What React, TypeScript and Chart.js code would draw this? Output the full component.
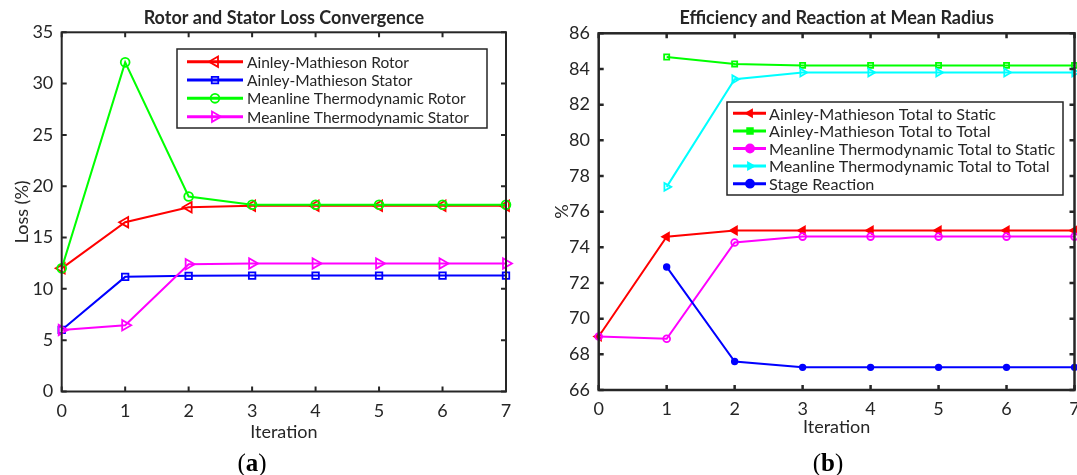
import React, { useEffect, useRef } from "react";
import { Chart, registerables } from "chart.js";

Chart.register(...registerables);

const FONT = "Lato, 'Open Sans', 'DejaVu Sans', sans-serif";
const TEXT = "#262626";

// ---------- shared ----------
const iterations = [0, 1, 2, 3, 4, 5, 6, 7];
const xLabel = "Iteration";

// ---------- (a) Rotor and Stator Loss Convergence ----------
const lossTitle = "Rotor and Stator Loss Convergence";
const lossYLabel = "Loss (%)";
const lossTicks = [0, 5, 10, 15, 20, 25, 30, 35];
const lossNames = [
  "Ainley-Mathieson Rotor",
  "Ainley-Mathieson Stator",
  "Meanline Thermodynamic Rotor",
  "Meanline Thermodynamic Stator",
];
const amRotor = [12.0, 16.5, 17.95, 18.1, 18.1, 18.1, 18.1, 18.1];
const amStator = [6.0, 11.17, 11.27, 11.3, 11.3, 11.3, 11.3, 11.3];
const mtRotor = [12.0, 32.07, 19.0, 18.2, 18.2, 18.2, 18.2, 18.2];
const mtStator = [6.0, 6.45, 12.4, 12.48, 12.48, 12.48, 12.48, 12.48];

// ---------- (b) Efficiency and Reaction at Mean Radius ----------
const effTitle = "Efficiency and Reaction at Mean Radius";
const effYLabel = "%";
const effTicks = [66, 68, 70, 72, 74, 76, 78, 80, 82, 84, 86];
const effNames = [
  "Ainley-Mathieson Total to Static",
  "Ainley-Mathieson Total to Total",
  "Meanline Thermodynamic Total to Static",
  "Meanline Thermodynamic Total to Total",
  "Stage Reaction",
];
const amTtS = [69.0, 74.59, 74.94, 74.94, 74.94, 74.94, 74.94, 74.94];
const amTtT = [null, 84.67, 84.28, 84.2, 84.2, 84.2, 84.2, 84.2];
const mtTtS = [69.0, 68.87, 74.27, 74.6, 74.6, 74.6, 74.6, 74.6];
const mtTtT = [null, 77.39, 83.42, 83.8, 83.8, 83.8, 83.8, 83.8];
const stageReaction = [null, 72.9, 67.6, 67.27, 67.27, 67.27, 67.27, 67.27];

// ---------- styles ----------
type Style = {
  color: string;
  shape: string;
  rotation: number;
  radius: number;
  fill: boolean;
};

const lossStyles: Style[] = [
  { color: "#ff0000", shape: "triangle", rotation: -90, radius: 6, fill: false },
  { color: "#0000ff", shape: "rect", rotation: 0, radius: 4.6, fill: false },
  { color: "#00ff00", shape: "circle", rotation: 0, radius: 4.4, fill: false },
  { color: "#ff00ff", shape: "triangle", rotation: 90, radius: 6, fill: false },
];

const effStyles: Style[] = [
  { color: "#ff0000", shape: "triangle", rotation: -90, radius: 4.5, fill: true },
  { color: "#00ff00", shape: "rect", rotation: 0, radius: 3.6, fill: false },
  { color: "#ff00ff", shape: "circle", rotation: 0, radius: 3.4, fill: false },
  { color: "#00ffff", shape: "triangle", rotation: 90, radius: 4.5, fill: false },
  { color: "#0000ff", shape: "circle", rotation: 0, radius: 2.8, fill: true },
];

function makeDataset(label: string, values: (number | null)[], st: Style, idx: number, lw: number) {
  return {
    label,
    data: iterations.map((x, i) => ({ x, y: values[i] })),
    borderColor: st.color,
    backgroundColor: st.color,
    borderWidth: lw,
    pointStyle: st.shape,
    pointRotation: st.rotation,
    pointRadius: st.radius,
    pointBorderWidth: 1.8,
    pointBorderColor: st.color,
    pointBackgroundColor: st.fill ? st.color : "rgba(0,0,0,0)",
    tension: 0,
    clip: false,
    order: -idx,
    _style: st,
  };
}

function drawMarker(ctx: CanvasRenderingContext2D, st: Style, x: number, y: number, r: number) {
  ctx.save();
  ctx.strokeStyle = st.color;
  ctx.fillStyle = st.color;
  ctx.lineWidth = 1.8;
  ctx.beginPath();
  if (st.shape === "circle") {
    ctx.arc(x, y, r, 0, Math.PI * 2);
  } else if (st.shape === "rect") {
    const s = Math.SQRT1_2 * r;
    ctx.rect(x - s, y - s, 2 * s, 2 * s);
  } else {
    let rad = (st.rotation * Math.PI) / 180;
    for (let k = 0; k < 3; k++) {
      const px = x + Math.sin(rad) * r;
      const py = y - Math.cos(rad) * r;
      if (k === 0) ctx.moveTo(px, py);
      else ctx.lineTo(px, py);
      rad += (2 * Math.PI) / 3;
    }
    ctx.closePath();
  }
  if (st.fill) ctx.fill();
  ctx.stroke();
  ctx.restore();
}

const framePlugin = {
  id: "frame",
  afterDatasetsDraw(chart: any, _args: any, opts: any) {
    const { ctx, chartArea } = chart;
    const { left, right, top, bottom } = chartArea;
    const xs = chart.scales.x;
    const ys = chart.scales.y;
    const tl = opts.tickLength ?? 5;
    ctx.save();
    ctx.strokeStyle = TEXT;
    ctx.lineWidth = opts.lineWidth ?? 2;
    ctx.beginPath();
    xs.ticks.forEach((t: any) => {
      const px = xs.getPixelForValue(t.value);
      ctx.moveTo(px, bottom);
      ctx.lineTo(px, bottom - tl);
      ctx.moveTo(px, top);
      ctx.lineTo(px, top + tl);
    });
    ys.ticks.forEach((t: any) => {
      const py = ys.getPixelForValue(t.value);
      ctx.moveTo(left, py);
      ctx.lineTo(left + tl, py);
      ctx.moveTo(right, py);
      ctx.lineTo(right - tl, py);
    });
    ctx.stroke();
    ctx.strokeRect(left, top, right - left, bottom - top);
    ctx.restore();
  },
};

const boxLegendPlugin = {
  id: "boxLegend",
  afterDraw(chart: any, _args: any, o: any) {
    const { ctx } = chart;
    ctx.save();
    ctx.fillStyle = "#ffffff";
    ctx.fillRect(o.x, o.y, o.w, o.h);
    ctx.strokeStyle = TEXT;
    ctx.lineWidth = 1.5;
    ctx.strokeRect(o.x, o.y, o.w, o.h);
    chart.data.datasets.forEach((ds: any, i: number) => {
      const cy = o.rowStart + i * o.rowStep;
      const st: Style = ds._style;
      ctx.strokeStyle = st.color;
      ctx.lineWidth = o.lineWidth;
      ctx.beginPath();
      ctx.moveTo(o.lineX0, cy);
      ctx.lineTo(o.lineX1, cy);
      ctx.stroke();
      drawMarker(ctx, { ...st, fill: o.fillMarkers ? true : st.fill }, o.markerX, cy, o.markerR ?? st.radius);
      ctx.fillStyle = TEXT;
      ctx.font = `${o.fontSize}px ${FONT}`;
      ctx.textBaseline = "middle";
      ctx.textAlign = "left";
      ctx.fillText(ds.label, o.textX, cy + 1);
    });
    ctx.restore();
  },
};

function axisFont(size: number, weight: any = "normal") {
  return { family: FONT, size, weight };
}

function lossConfig(): any {
  const series = [amRotor, amStator, mtRotor, mtStator];
  return {
    type: "line",
    data: {
      datasets: series.map((v, i) => makeDataset(lossNames[i], v, lossStyles[i], i, 2)),
    },
    plugins: [framePlugin, boxLegendPlugin],
    options: {
      responsive: false,
      animation: false,
      devicePixelRatio: 1,
      layout: { padding: { left: 0, right: 34, top: 0, bottom: 0 } },
      plugins: {
        legend: { display: false },
        tooltip: { enabled: false },
        title: {
          display: true,
          text: lossTitle,
          fullSize: false,
          color: TEXT,
          font: axisFont(18, "bold"),
          padding: { top: 7, bottom: 3.7 },
        },
        frame: { lineWidth: 2, tickLength: 5 },
        boxLegend: {
          x: 177, y: 49, w: 310, h: 79,
          rowStart: 61.7, rowStep: 18.33,
          lineX0: 187, lineX1: 243, markerX: 215, textX: 247,
          fontSize: 15.5, lineWidth: 3,
        },
      },
      scales: {
        x: {
          type: "linear",
          min: 0,
          max: 7,
          afterBuildTicks: (s: any) => { s.ticks = iterations.map((v) => ({ value: v })); },
          ticks: { color: TEXT, font: axisFont(18), padding: 9, callback: (v: any) => String(v) },
          grid: { display: false, drawTicks: false },
          border: { display: false },
          title: { display: true, text: xLabel, color: TEXT, font: axisFont(18), padding: { top: 0, bottom: 32.2 } },
          afterFit: (s: any) => { s.height = 83.5; },
        },
        y: {
          type: "linear",
          min: 0,
          max: 35,
          afterBuildTicks: (s: any) => { s.ticks = lossTicks.map((v) => ({ value: v })); },
          ticks: { color: TEXT, font: axisFont(18), padding: 8.4, callback: (v: any) => String(v) },
          grid: { display: false, drawTicks: false },
          border: { display: false },
          title: { display: true, text: lossYLabel, color: TEXT, font: axisFont(18), padding: { top: 11.2, bottom: 0 } },
          afterFit: (s: any) => { s.width = 61.7; },
        },
      },
    },
  };
}

function effConfig(): any {
  const series = [amTtS, amTtT, mtTtS, mtTtT, stageReaction];
  return {
    type: "line",
    data: {
      datasets: series.map((v, i) => makeDataset(effNames[i], v, effStyles[i], i, 2)),
    },
    plugins: [framePlugin, boxLegendPlugin],
    options: {
      responsive: false,
      animation: false,
      devicePixelRatio: 1,
      layout: { padding: { left: 0, right: 25.5, top: 0, bottom: 0 } },
      plugins: {
        legend: { display: false },
        tooltip: { enabled: false },
        title: {
          display: true,
          text: effTitle,
          fullSize: false,
          color: TEXT,
          font: axisFont(18, "bold"),
          padding: { top: 7, bottom: 4.7 },
        },
        frame: { lineWidth: 2.5, tickLength: 5 },
        boxLegend: {
          x: 187, y: 102, w: 336, h: 93,
          rowStart: 113.3, rowStep: 17.6,
          lineX0: 193, lineX1: 226, markerX: 210, markerR: 4, textX: 229,
          fontSize: 16.2, lineWidth: 3, fillMarkers: true,
        },
      },
      scales: {
        x: {
          type: "linear",
          min: 0,
          max: 7,
          afterBuildTicks: (s: any) => { s.ticks = iterations.map((v) => ({ value: v })); },
          ticks: { color: TEXT, font: axisFont(18), padding: 8, callback: (v: any) => String(v) },
          grid: { display: false, drawTicks: false },
          border: { display: false },
          title: { display: true, text: xLabel, color: TEXT, font: axisFont(18), padding: { top: 0, bottom: 36.7 } },
          afterFit: (s: any) => { s.height = 85; },
        },
        y: {
          type: "linear",
          min: 66,
          max: 86,
          afterBuildTicks: (s: any) => { s.ticks = effTicks.map((v) => ({ value: v })); },
          ticks: { color: TEXT, font: axisFont(18), padding: 8.7, callback: (v: any) => String(v) },
          grid: { display: false, drawTicks: false },
          border: { display: false },
          title: { display: true, text: effYLabel, color: TEXT, font: axisFont(18), padding: { top: 11.2, bottom: 0 } },
          afterFit: (s: any) => { s.width = 58.7; },
        },
      },
    },
  };
}

function ChartCanvas({ make, width, height }: { make: () => any; width: number; height: number }) {
  const ref = useRef<HTMLCanvasElement>(null);
  useEffect(() => {
    const chart = new Chart(ref.current as HTMLCanvasElement, make());
    return () => chart.destroy();
  }, []);
  return <canvas ref={ref} width={width} height={height} style={{ display: "block", width, height }} />;
}

const capStyle: React.CSSProperties = {
  position: "absolute",
  transform: "translate(-50%, -50%)",
  fontFamily: "'Liberation Serif', 'DejaVu Serif', serif",
  fontSize: 25,
  color: "#000",
  whiteSpace: "nowrap",
  lineHeight: 1,
};

export default function App() {
  return (
    <div
      style={{
        position: "fixed",
        left: 0,
        top: 0,
        width: 1077,
        height: 475,
        overflow: "hidden",
        background: "#ffffff",
      }}
    >
      <div style={{ position: "absolute", left: 0, top: 0 }}>
        <ChartCanvas make={lossConfig} width={540} height={475} />
      </div>
      <div style={{ position: "absolute", left: 540, top: 0 }}>
        <ChartCanvas make={effConfig} width={560} height={475} />
      </div>
      <div style={{ ...capStyle, left: 252, top: 462 }}>
        (<b>a</b>)
      </div>
      <div style={{ ...capStyle, left: 828, top: 462 }}>
        (<b>b</b>)
      </div>
    </div>
  );
}
